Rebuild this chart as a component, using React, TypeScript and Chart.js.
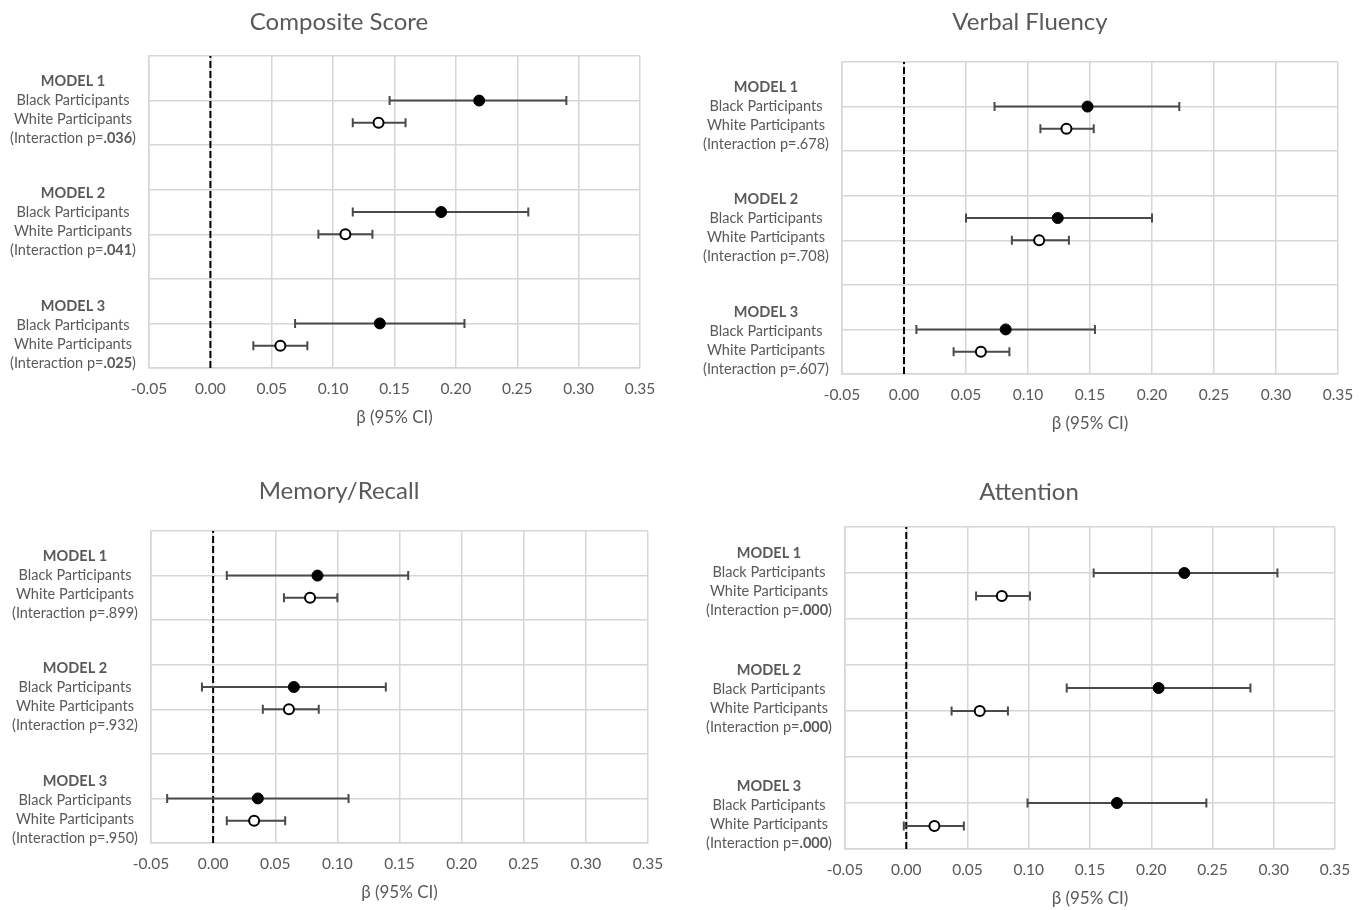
import React, { useEffect, useRef } from "react";
import { Chart, registerables } from "chart.js";

Chart.register(...registerables);

// ---------- data ----------
const PANEL_TITLES = ["Composite Score", "Verbal Fluency", "Memory/Recall", "Attention"];
const MODEL_NAMES = ["MODEL 1", "MODEL 2", "MODEL 3"];
const GROUP_NAMES = ["Black Participants", "White Participants"];
const X_TICKS = [-0.05, 0, 0.05, 0.1, 0.15, 0.2, 0.25, 0.3, 0.35];
const X_TITLE = "β (95% CI)";

// row positions (category rows on the hidden y axis)
const BLACK_ROWS = [6, 3.5, 1];
const WHITE_ROWS = [5.5, 3, 0.5];
const LABEL_ROWS = [5.8, 3.27, 0.75];

// Composite Score
const COMP_BLACK = [0.219, 0.188, 0.138];
const COMP_BLACK_LO = [0.146, 0.116, 0.069];
const COMP_BLACK_HI = [0.290, 0.259, 0.207];
const COMP_WHITE = [0.137, 0.110, 0.057];
const COMP_WHITE_LO = [0.116, 0.088, 0.035];
const COMP_WHITE_HI = [0.159, 0.132, 0.079];
const COMP_P = [".036", ".041", ".025"];
const COMP_P_BOLD = true;

// Verbal Fluency
const VERB_BLACK = [0.148, 0.124, 0.082];
const VERB_BLACK_LO = [0.073, 0.050, 0.010];
const VERB_BLACK_HI = [0.222, 0.200, 0.154];
const VERB_WHITE = [0.131, 0.109, 0.062];
const VERB_WHITE_LO = [0.110, 0.087, 0.040];
const VERB_WHITE_HI = [0.153, 0.133, 0.085];
const VERB_P = [".678", ".708", ".607"];
const VERB_P_BOLD = false;

// Memory/Recall
const MEM_BLACK = [0.084, 0.065, 0.036];
const MEM_BLACK_LO = [0.011, -0.009, -0.037];
const MEM_BLACK_HI = [0.157, 0.139, 0.109];
const MEM_WHITE = [0.078, 0.061, 0.033];
const MEM_WHITE_LO = [0.057, 0.040, 0.011];
const MEM_WHITE_HI = [0.100, 0.085, 0.058];
const MEM_P = [".899", ".932", ".950"];
const MEM_P_BOLD = false;

// Attention
const ATT_BLACK = [0.227, 0.206, 0.172];
const ATT_BLACK_LO = [0.153, 0.131, 0.099];
const ATT_BLACK_HI = [0.303, 0.281, 0.245];
const ATT_WHITE = [0.078, 0.060, 0.023];
const ATT_WHITE_LO = [0.057, 0.037, -0.002];
const ATT_WHITE_HI = [0.101, 0.083, 0.047];
const ATT_P = [".000", ".000", ".000"];
const ATT_P_BOLD = true;

const PANEL_DATA = [
  { black: COMP_BLACK, blo: COMP_BLACK_LO, bhi: COMP_BLACK_HI, white: COMP_WHITE, wlo: COMP_WHITE_LO, whi: COMP_WHITE_HI, p: COMP_P, bold: COMP_P_BOLD },
  { black: VERB_BLACK, blo: VERB_BLACK_LO, bhi: VERB_BLACK_HI, white: VERB_WHITE, wlo: VERB_WHITE_LO, whi: VERB_WHITE_HI, p: VERB_P, bold: VERB_P_BOLD },
  { black: MEM_BLACK, blo: MEM_BLACK_LO, bhi: MEM_BLACK_HI, white: MEM_WHITE, wlo: MEM_WHITE_LO, whi: MEM_WHITE_HI, p: MEM_P, bold: MEM_P_BOLD },
  { black: ATT_BLACK, blo: ATT_BLACK_LO, bhi: ATT_BLACK_HI, white: ATT_WHITE, wlo: ATT_WHITE_LO, whi: ATT_WHITE_HI, p: ATT_P, bold: ATT_P_BOLD },
];

// ---------- layout / style ----------
const PANEL_LAYOUT = [
  { left: 0, top: 0, pad: { left: 149, right: 44, top: 56, bottom: 27 }, titleX: 339, titleY: 22 },
  { left: 684, top: 0, pad: { left: 158, right: 30, top: 62, bottom: 21 }, titleX: 346, titleY: 22 },
  { left: 0, top: 455, pad: { left: 151, right: 36, top: 76, bottom: 7 }, titleX: 339, titleY: 36 },
  { left: 684, top: 455, pad: { left: 161, right: 33, top: 72, bottom: 1 }, titleX: 345, titleY: 37 },
];
const W = 684;
const H = 455;
const FONT = "Lato, 'Open Sans', sans-serif";
const TEXT = "#595959";
const GRID = "#d6d6d6";
const BAR = "#4a4a4a";
const LABEL_SIZE = 14.5;

function Panel({ idx }: { idx: number }) {
  const ref = useRef<HTMLCanvasElement | null>(null);
  useEffect(() => {
    const d = PANEL_DATA[idx];
    const lay = PANEL_LAYOUT[idx];
    const title = PANEL_TITLES[idx];

    const errorBars = {
      id: "errorBars",
      beforeDatasetDraw(chart: any, args: any) {
        const ds = chart.data.datasets[args.index];
        if (!ds.lo) return;
        const { ctx } = chart;
        const xs = chart.scales.x;
        const ys = chart.scales.y;
        ctx.save();
        ctx.strokeStyle = BAR;
        ctx.lineWidth = 2;
        ds.data.forEach((pt: any, i: number) => {
          const y = ys.getPixelForValue(pt.y);
          const x1 = xs.getPixelForValue(ds.lo[i]);
          const x2 = xs.getPixelForValue(ds.hi[i]);
          ctx.beginPath();
          ctx.moveTo(x1, y);
          ctx.lineTo(x2, y);
          ctx.moveTo(x1, y - 4.5);
          ctx.lineTo(x1, y + 4.5);
          ctx.moveTo(x2, y - 4.5);
          ctx.lineTo(x2, y + 4.5);
          ctx.stroke();
        });
        ctx.restore();
      },
    };

    const texts = {
      id: "panelTexts",
      afterDraw(chart: any) {
        const { ctx, chartArea } = chart;
        const ys = chart.scales.y;
        ctx.save();
        ctx.fillStyle = TEXT;
        ctx.textBaseline = "middle";
        ctx.textAlign = "center";
        ctx.font = `400 24px ${FONT}`;
        ctx.fillText(title, lay.titleX, lay.titleY);
        const cx = chartArea.left - 76;
        MODEL_NAMES.forEach((m, i) => {
          const yc = ys.getPixelForValue(LABEL_ROWS[i]);
          const step = 19;
          const lines: { text: string; bold: boolean }[][] = [
            [{ text: m, bold: true }],
            [{ text: GROUP_NAMES[0], bold: false }],
            [{ text: GROUP_NAMES[1], bold: false }],
            [
              { text: "(Interaction p=", bold: false },
              { text: d.p[i], bold: d.bold },
              { text: ")", bold: false },
            ],
          ];
          lines.forEach((parts, li) => {
            const y = yc + (li - 1.5) * step;
            const widths = parts.map((pt) => {
              ctx.font = `${pt.bold ? 700 : 400} ${LABEL_SIZE}px ${FONT}`;
              return ctx.measureText(pt.text).width;
            });
            const total = widths.reduce((a, b) => a + b, 0);
            let x = cx - total / 2;
            ctx.textAlign = "left";
            parts.forEach((pt, k) => {
              ctx.font = `${pt.bold ? 700 : 400} ${LABEL_SIZE}px ${FONT}`;
              ctx.fillText(pt.text, x, y);
              x += widths[k];
            });
          });
        });
        ctx.restore();
      },
    };

    const chart = new Chart(ref.current as HTMLCanvasElement, {
      type: "scatter",
      data: {
        datasets: [
          {
            type: "line",
            data: [
              { x: 0, y: 0 },
              { x: 0, y: 7 },
            ],
            borderColor: "#000",
            borderWidth: 2,
            borderDash: [7, 3],
            pointRadius: 0,
            showLine: true,
            order: 3,
          } as any,
          {
            data: d.black.map((v, i) => ({ x: v, y: BLACK_ROWS[i] })),
            lo: d.blo,
            hi: d.bhi,
            backgroundColor: "#000",
            borderColor: "#000",
            borderWidth: 1,
            pointRadius: 5.5,
            order: 2,
          } as any,
          {
            data: d.white.map((v, i) => ({ x: v, y: WHITE_ROWS[i] })),
            lo: d.wlo,
            hi: d.whi,
            backgroundColor: "#fff",
            borderColor: "#000",
            borderWidth: 2,
            pointRadius: 5,
            order: 1,
          } as any,
        ],
      },
      options: {
        animation: false,
        responsive: false,
        maintainAspectRatio: false,
        layout: { padding: lay.pad },
        plugins: {
          legend: { display: false },
          tooltip: { enabled: false },
          title: { display: false },
        },
        scales: {
          x: {
            type: "linear",
            min: -0.05,
            max: 0.35,
            afterBuildTicks: (s: any) => {
              s.ticks = X_TICKS.map((v) => ({ value: v }));
            },
            afterFit: (s: any) => {
              s.height = 60;
            },
            ticks: {
              autoSkip: false,
              maxRotation: 0,
              padding: 12,
              color: TEXT,
              font: { family: FONT, size: 15.5 },
              callback: (v: any) => Number(v).toFixed(2),
            },
            grid: { color: GRID, lineWidth: 1.5, drawTicks: false },
            border: { color: GRID, width: 1.5 },
            title: {
              display: true,
              text: X_TITLE,
              color: TEXT,
              font: { family: FONT, size: 17 },
              padding: 0,
            },
          },
          y: {
            type: "linear",
            min: 0,
            max: 7,
            ticks: { display: false, stepSize: 1 },
            afterFit: (s: any) => {
              s.width = 0;
            },
            grid: { color: GRID, lineWidth: 1.5, drawTicks: false },
            border: { color: GRID, width: 1.5 },
          },
        },
      } as any,
      plugins: [errorBars, texts],
    });
    return () => chart.destroy();
  }, [idx]);
  const lay = PANEL_LAYOUT[idx];
  return (
    <div style={{ position: "absolute", left: lay.left, top: lay.top, width: W, height: H }}>
      <canvas ref={ref} width={W} height={H} style={{ width: W, height: H, display: "block" }} />
    </div>
  );
}

export default function App() {
  return (
    <div style={{ position: "absolute", left: 0, top: 0, width: 1368, height: 910, background: "#fff" }}>
      {PANEL_TITLES.map((_, i) => (
        <Panel key={i} idx={i} />
      ))}
    </div>
  );
}
